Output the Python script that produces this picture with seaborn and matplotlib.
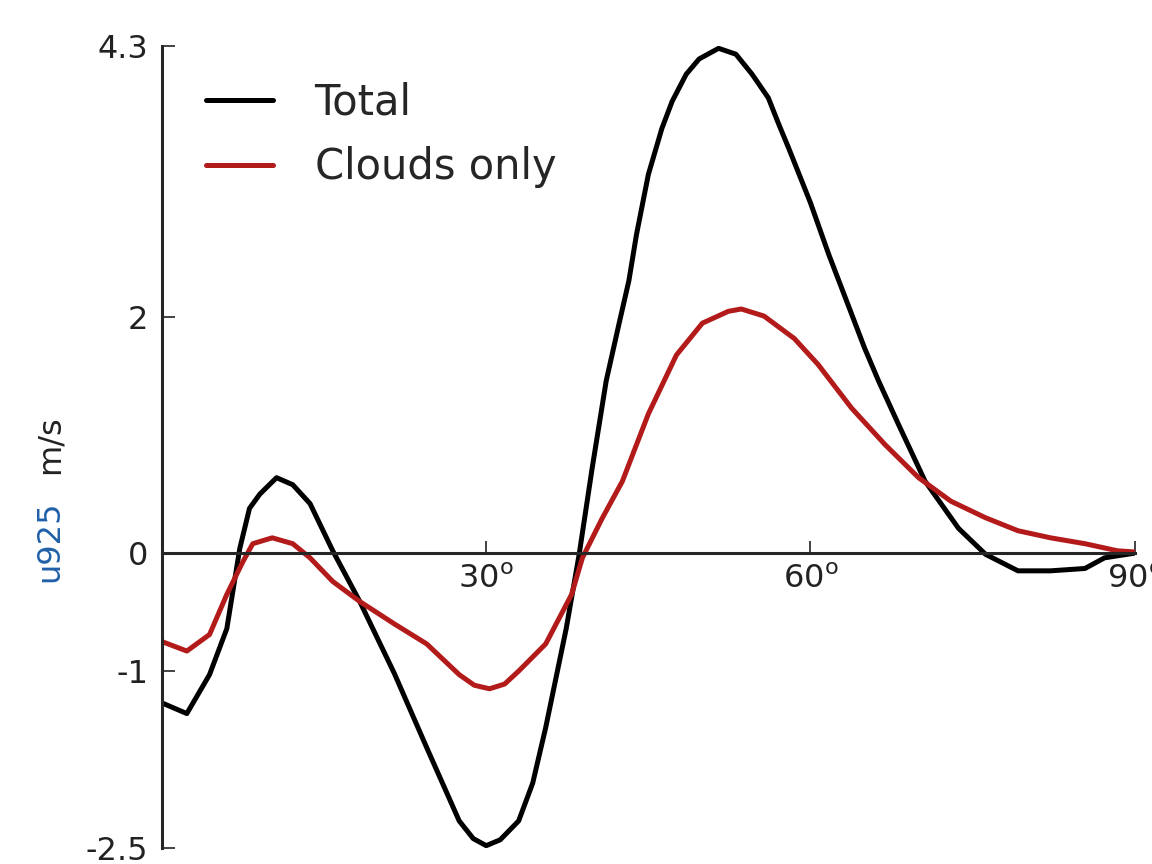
import matplotlib
matplotlib.use("Agg")
import matplotlib.pyplot as plt
import seaborn as sns

# Latitude (deg) and u925 (m/s)
lat_total = [0, 2.3, 4.4, 6.0, 7.2, 8.1, 9.05, 10.6, 12.1, 13.7, 15.8, 18.3,
             21.5, 24.5, 27.5, 28.8, 30.0, 31.3, 33.0, 34.3, 35.5, 37.4, 38.6,
             39.8, 41.1, 42.3, 43.2, 43.9, 45.0, 46.25, 47.2, 48.5, 49.7, 51.5,
             53.1, 54.6, 56.1, 57.05, 58.0, 60.0, 61.7, 63.5, 65.0, 66.3, 68.1,
             70.6, 73.7, 76.2, 79.2, 82.2, 85.4, 87.2, 90]
u_total = [-1.27, -1.36, -1.03, -0.64, 0.04, 0.38, 0.50, 0.64, 0.58, 0.42, 0.02, -0.41,
           -1.02, -1.65, -2.27, -2.42, -2.48, -2.43, -2.27, -1.95, -1.48, -0.64, -0.01,
           0.72, 1.46, 1.95, 2.31, 2.70, 3.21, 3.60, 3.83, 4.06, 4.19, 4.28,
           4.23, 4.06, 3.86, 3.64, 3.43, 2.97, 2.53, 2.10, 1.74, 1.46, 1.10,
           0.61, 0.21, -0.01, -0.15, -0.15, -0.13, -0.04, 0.0]

lat_clouds = [0, 2.3, 4.4, 6.0, 7.5, 8.4, 10.2, 12.1, 13.7, 15.8, 18.3, 21.5,
              24.5, 27.5, 28.9, 30.3, 31.7, 33.0, 35.5, 37.9, 38.9, 40.7, 42.6,
              45.0, 47.6, 50.0, 52.4, 53.6, 55.7, 58.5, 60.7, 63.8, 66.9, 70.0,
              73.0, 76.2, 79.2, 82.2, 85.4, 88.4, 90]
u_clouds = [-0.75, -0.83, -0.69, -0.35, -0.07, 0.08, 0.13, 0.08, -0.04, -0.24, -0.41, -0.60,
            -0.77, -1.03, -1.12, -1.15, -1.11, -1.00, -0.77, -0.35, -0.04, 0.29, 0.61,
            1.18, 1.68, 1.95, 2.05, 2.07, 2.01, 1.82, 1.60, 1.23, 0.92, 0.64,
            0.44, 0.30, 0.19, 0.13, 0.08, 0.02, 0.01]

x_ticks = [30, 60, 90]
x_ticklabels = [r"30$^{\rm o}$", r"60$^{\rm o}$", r"90$^{\rm o}$"]
y_ticks = [-2.5, -1, 0, 2, 4.3]
y_ticklabels = ["-2.5", "-1", "0", "2", "4.3"]

sns.set_style("ticks")
plt.rcParams['font.family'] = ['DejaVu Sans']
plt.rcParams['mathtext.fontset'] = 'dejavusans'

fig = plt.figure(figsize=(11.52, 8.64), dpi=100)
ax = fig.add_axes([0.1406, 0.0185, 0.8444, 0.9283])

red = "#b31b1b"
sns.lineplot(x=lat_total, y=u_total, color="black", linewidth=3.6, label="Total", ax=ax)
sns.lineplot(x=lat_clouds, y=u_clouds, color=red, linewidth=3.6, label="Clouds only", ax=ax)

ax.set_xlim(0, 90)
ax.set_ylim(-2.5, 4.3)

ax.spines['top'].set_visible(False)
ax.spines['right'].set_visible(False)
ax.spines['bottom'].set_position(('data', 0))
ax.spines['left'].set_linewidth(2.2)
ax.spines['bottom'].set_linewidth(2.2)

ax.set_xticks(x_ticks)
ax.set_xticklabels(x_ticklabels)
ax.set_yticks(y_ticks)
ax.set_yticklabels(y_ticklabels)
ax.tick_params(axis='both', direction='in', length=9, width=1.2, labelsize=23,
               colors='#222222', labelcolor='#222222')
ax.tick_params(axis='x', pad=8)
ax.tick_params(axis='y', pad=10)
ax.set_xlabel("")
ax.set_ylabel("")

# two-coloured y label
fig.text(0.0434, 0.373, "u925", rotation=90, ha='center', va='center',
         fontsize=23, color="#2060a8")
fig.text(0.0434, 0.485, "m/s", rotation=90, ha='center', va='center',
         fontsize=23, color="#222222")

ax.legend(loc='upper left', bbox_to_anchor=(0.179, 0.906), bbox_transform=fig.transFigure,
          frameon=False, fontsize=30, handlelength=1.6, handletextpad=1.0,
          labelspacing=0.55, borderpad=0, borderaxespad=0)

fig.savefig("out.png", dpi=100)
